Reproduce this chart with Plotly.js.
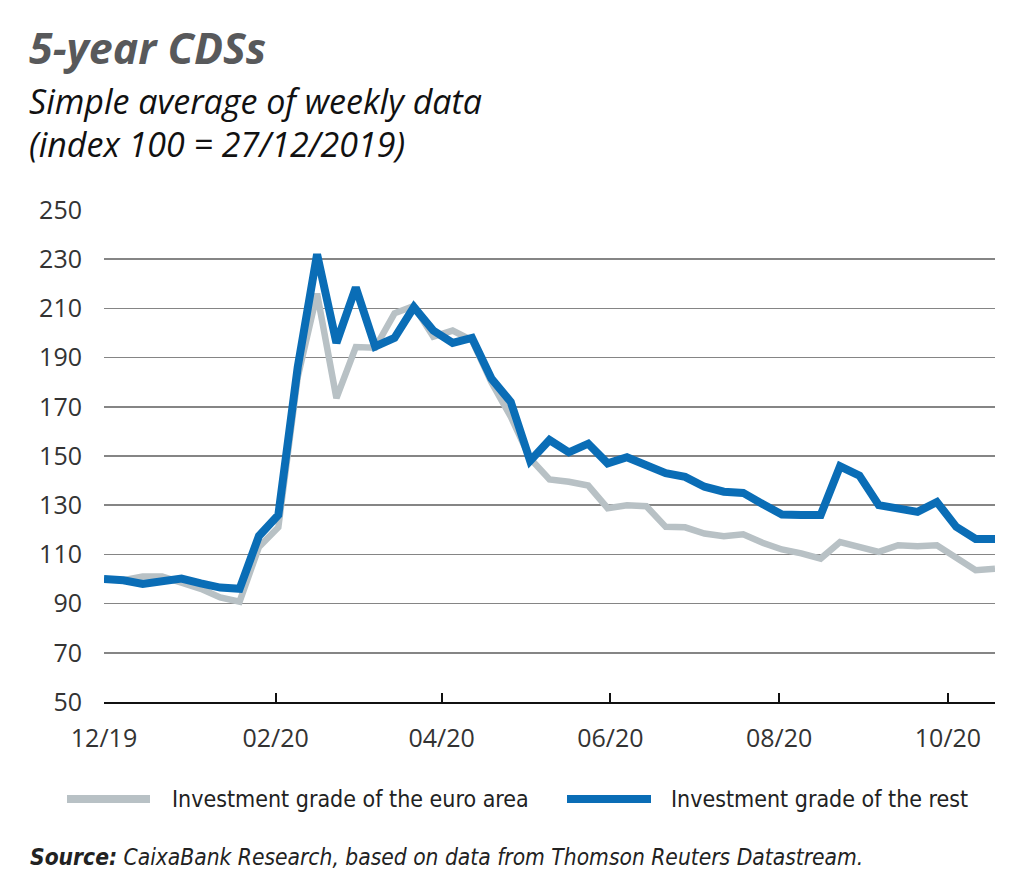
<!DOCTYPE html>
<html>
<head>
<meta charset="utf-8">
<script src="https://cdn.plot.ly/plotly-3.0.1.min.js"></script>
<style>
html,body{margin:0;padding:0;background:#fff;}
#chart{width:1024px;height:883px;}
</style>
</head>
<body>
<div id="chart"></div>
<script>
// Weekly dates (Friday)
const dates = [
  '2019-12-27','2020-01-03','2020-01-10','2020-01-17','2020-01-24','2020-01-31',
  '2020-02-07','2020-02-14','2020-02-21','2020-02-28','2020-03-06','2020-03-13',
  '2020-03-20','2020-03-27','2020-04-03','2020-04-10','2020-04-17','2020-04-24',
  '2020-05-01','2020-05-08','2020-05-15','2020-05-22','2020-05-29','2020-06-05',
  '2020-06-12','2020-06-19','2020-06-26','2020-07-03','2020-07-10','2020-07-17',
  '2020-07-24','2020-07-31','2020-08-07','2020-08-14','2020-08-21','2020-08-28',
  '2020-09-04','2020-09-11','2020-09-18','2020-09-25','2020-10-02','2020-10-09',
  '2020-10-16','2020-10-23','2020-10-30','2020-11-06','2020-11-13'
];
// Investment grade of the euro area
const euroArea = [
  100, 99.5, 101, 101, 98.5, 96, 92.5, 90.8, 113, 121, 182, 216,
  173.5, 194.3, 194, 208, 211, 198.5, 201, 197, 180, 166, 149, 140.5,
  139.5, 138, 128.8, 130, 129.6, 121.2, 121, 118.5, 117.4, 118.2, 114.7, 112,
  110.4, 108.3, 115, 113, 111, 113.7, 113.3, 113.7, 109, 103.6, 104.2
];
// Investment grade of the rest
const rest = [
  100, 99.5, 98, 99.2, 100.2, 98.2, 96.5, 96, 117.5, 126, 186, 232,
  196, 218.5, 194.5, 198, 210.5, 201, 196, 198, 181.5, 172, 148, 156.5,
  151.5, 155, 147, 149.5, 146.5, 143, 141.5, 137.5, 135.5, 135, 130.5, 126.2,
  126, 126, 145.8, 142, 130, 128.7, 127.3, 131.3, 121.2, 116.3, 116.3
];
const seriesNames = ['Investment grade of the euro area', 'Investment grade of the rest'];
const tickDates = ['2019-12-27','2020-02-27','2020-04-27','2020-06-27','2020-08-27','2020-10-27'];
const tickLabels = ['12/19','02/20','04/20','06/20','08/20','10/20'];
const yTicks = [50,70,90,110,130,150,170,190,210,230,250];

const colGray = '#b8c1c5';
const colBlue = '#0a6db6';
const baseFont = 'Open Sans, Noto Sans, sans-serif';
const narrowFont = 'Liberation Sans Narrow, DejaVu Sans Condensed, Open Sans, sans-serif';

const W = 1024, H = 883;
const L = 104, R = 29, T = 210, B = 181;
const pw = W - L - R, ph = H - T - B;
const px = x => (x - L) / pw;
const py = y => (H - B - y) / ph;

const traces = [
  {x: dates, y: euroArea, name: seriesNames[0], type: 'scatter', mode: 'lines',
   line: {color: colGray, width: 6.5, shape: 'linear'}, showlegend: false},
  {x: dates, y: rest, name: seriesNames[1], type: 'scatter', mode: 'lines',
   line: {color: colBlue, width: 8, shape: 'linear'}, showlegend: false}
];

const layout = {
  width: W, height: H,
  margin: {l: L, r: R, t: T, b: B, pad: 0},
  paper_bgcolor: '#fff', plot_bgcolor: '#fff',
  showlegend: false,
  xaxis: {
    type: 'date', range: ['2019-12-27', '2020-11-13'],
    tickmode: 'array', tickvals: tickDates, ticktext: tickLabels,
    showgrid: false, zeroline: false,
    showline: true, linecolor: '#111', linewidth: 2,
    ticks: 'inside', ticklen: 9, tickwidth: 2, tickcolor: '#111',
    tickfont: {family: baseFont, size: 25, color: '#333'},
    ticklabelstandoff: 13
  },
  yaxis: {
    range: [50, 250], tickmode: 'array', tickvals: yTicks,
    showgrid: true, gridcolor: '#858585', gridwidth: 1.7,
    zeroline: false, showline: false, ticks: '',
    tickfont: {family: baseFont, size: 25, color: '#333'},
    ticklabelstandoff: 21
  },
  shapes: [
    {type: 'line', xref: 'paper', yref: 'paper', x0: px(67), x1: px(150), y0: py(799), y1: py(799),
     line: {color: colGray, width: 8}},
    {type: 'line', xref: 'paper', yref: 'paper', x0: px(567), x1: px(651), y0: py(799), y1: py(799),
     line: {color: colBlue, width: 8}}
  ],
  annotations: [
    {xref: 'paper', yref: 'paper', x: px(27), y: py(47), xanchor: 'left', yanchor: 'middle',
     text: '<b><i>5-year CDSs</i></b>', showarrow: false,
     font: {family: baseFont, size: 43, color: '#58595b'}},
    {xref: 'paper', yref: 'paper', x: px(27), y: py(101), xanchor: 'left', yanchor: 'middle',
     text: '<i>Simple average of weekly data</i>', showarrow: false,
     font: {family: baseFont, size: 34, color: '#111'}},
    {xref: 'paper', yref: 'paper', x: px(27), y: py(144), xanchor: 'left', yanchor: 'middle',
     text: '<i>(index 100 = 27/12/2019)</i>', showarrow: false,
     font: {family: baseFont, size: 34, color: '#111'}},
    {xref: 'paper', yref: 'paper', x: px(170), y: py(799), xanchor: 'left', yanchor: 'middle',
     text: seriesNames[0], showarrow: false,
     font: {family: narrowFont, size: 23, color: '#222'}},
    {xref: 'paper', yref: 'paper', x: px(669), y: py(799), xanchor: 'left', yanchor: 'middle',
     text: seriesNames[1], showarrow: false,
     font: {family: narrowFont, size: 23, color: '#222'}},
    {xref: 'paper', yref: 'paper', x: px(28), y: py(857), xanchor: 'left', yanchor: 'middle',
     text: '<b><i>Source:</i></b><i> CaixaBank Research, based on data from Thomson Reuters Datastream.</i>', showarrow: false,
     font: {family: narrowFont, size: 22.6, color: '#222'}}
  ]
};

Plotly.newPlot('chart', traces, layout, {displayModeBar: false, staticPlot: true});
</script>
</body>
</html>
